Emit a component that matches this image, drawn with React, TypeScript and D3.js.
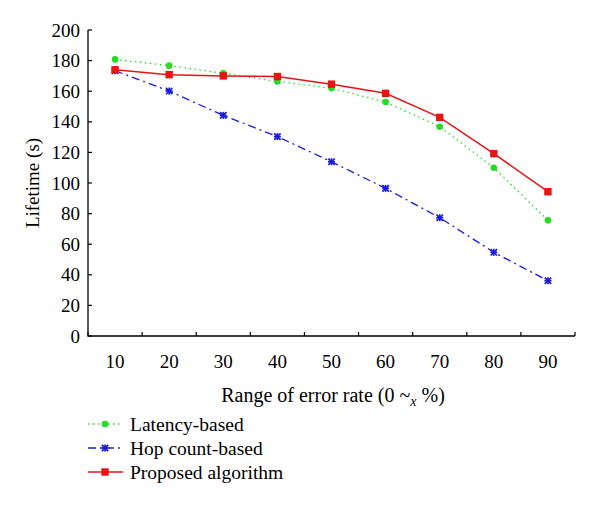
import React from "react";
import * as d3 from "d3";

const categories = ["10", "20", "30", "40", "50", "60", "70", "80", "90"];
const latency = [180.8, 176.7, 171.7, 166.4, 162, 152.9, 136.8, 110, 75.6];
const hopCount = [173.4, 160.1, 144.2, 130.3, 113.9, 96.5, 77.3, 54.7, 36.1];
const proposed = [174, 170.8, 170, 169.6, 164.6, 158.6, 142.9, 119.2, 94.3];
const yTicks = [0, 20, 40, 60, 80, 100, 120, 140, 160, 180, 200];

const FONT = "Liberation Serif";

export default function App() {
  const W = 600, H = 507;
  const left = 88, right = 575, top = 30, bottom = 336;
  const x = d3.scaleBand<string>().domain(categories).range([left, right]);
  const y = d3.scaleLinear().domain([0, 200]).range([bottom, top]);
  const cx = (c: string) => (x(c) ?? 0) + x.bandwidth() / 2;
  const line = d3
    .line<number>()
    .x((_, i) => cx(categories[i]))
    .y((d) => y(d));

  const series = [
    { name: "Latency-based", data: latency, color: "#22dd22", dash: "1.5 3.5", width: 1.3, marker: "circle" },
    { name: "Hop count-based", data: hopCount, color: "#1a1adb", dash: "8 4 2 4", width: 1.3, marker: "x" },
    { name: "Proposed algorithm", data: proposed, color: "#e81414", dash: "", width: 1.5, marker: "square" },
  ];

  const marker = (m: string, px: number, py: number, color: string, key: string) => {
    if (m === "circle") return <circle key={key} cx={px} cy={py} r={3.3} fill={color} />;
    if (m === "square") return <rect key={key} x={px - 3.7} y={py - 3.7} width={7.4} height={7.4} fill={color} />;
    return (
      <g key={key} stroke={color} strokeWidth={1.7}>
        <line x1={px - 3.2} y1={py - 3.2} x2={px + 3.2} y2={py + 3.2} />
        <line x1={px - 3.2} y1={py + 3.2} x2={px + 3.2} y2={py - 3.2} />
        <line x1={px} y1={py - 3.5} x2={px} y2={py + 3.5} />
        <line x1={px - 3.5} y1={py} x2={px + 3.5} y2={py} />
      </g>
    );
  };

  const boundaries = [...categories.map((c) => x(c) ?? 0), right];
  const tf = { fontFamily: FONT };

  return (
    <svg width={W} height={H} style={{ position: "absolute", left: 0, top: 0, background: "#fff" }}>
      <rect x={0} y={0} width={W} height={H} fill="#fff" />
      <path d={`M${left},${top}V${bottom}H${right}`} fill="none" stroke="#000" strokeWidth={1.3} />
      {yTicks.map((t) => (
        <g key={t}>
          <line x1={left} x2={left + 4} y1={y(t)} y2={y(t)} stroke="#000" strokeWidth={1.2} />
          <text x={left - 8} y={y(t)} dy="0.35em" textAnchor="end" fontSize={19} style={tf}>
            {t}
          </text>
        </g>
      ))}
      {boundaries.map((b, i) => (
        <line key={i} x1={b} x2={b} y1={bottom} y2={bottom - 4} stroke="#000" strokeWidth={1.2} />
      ))}
      {categories.map((c) => (
        <text key={c} x={cx(c)} y={361} dy="0.35em" textAnchor="middle" fontSize={19} style={tf}>
          {c}
        </text>
      ))}
      <text x={333} y={395} dy="0.35em" textAnchor="middle" fontSize={20} style={tf}>
        Range of error rate (0 ~<tspan fontStyle="italic" fontSize={14} dy={4}>x</tspan>
        <tspan dy={-4}> %)</tspan>
      </text>
      <text transform={`translate(32,183) rotate(-90)`} textAnchor="middle" dy="0.35em" fontSize={19} style={tf}>
        Lifetime (s)
      </text>
      {series.map((s) => (
        <g key={s.name}>
          <path d={line(s.data) ?? ""} fill="none" stroke={s.color} strokeWidth={s.width} strokeDasharray={s.dash} />
          {s.data.map((v, i) => marker(s.marker, cx(categories[i]), y(v), s.color, s.name + i))}
        </g>
      ))}
      {series.map((s, i) => {
        const ly = 424 + i * 24;
        return (
          <g key={"lg" + s.name}>
            <line x1={88} x2={123} y1={ly} y2={ly} stroke={s.color} strokeWidth={s.width} strokeDasharray={s.dash} />
            {marker(s.marker, 105, ly, s.color, "lm" + i)}
            <text x={130} y={ly} dy="0.35em" fontSize={19.5} style={tf}>
              {s.name}
            </text>
          </g>
        );
      })}
    </svg>
  );
}
